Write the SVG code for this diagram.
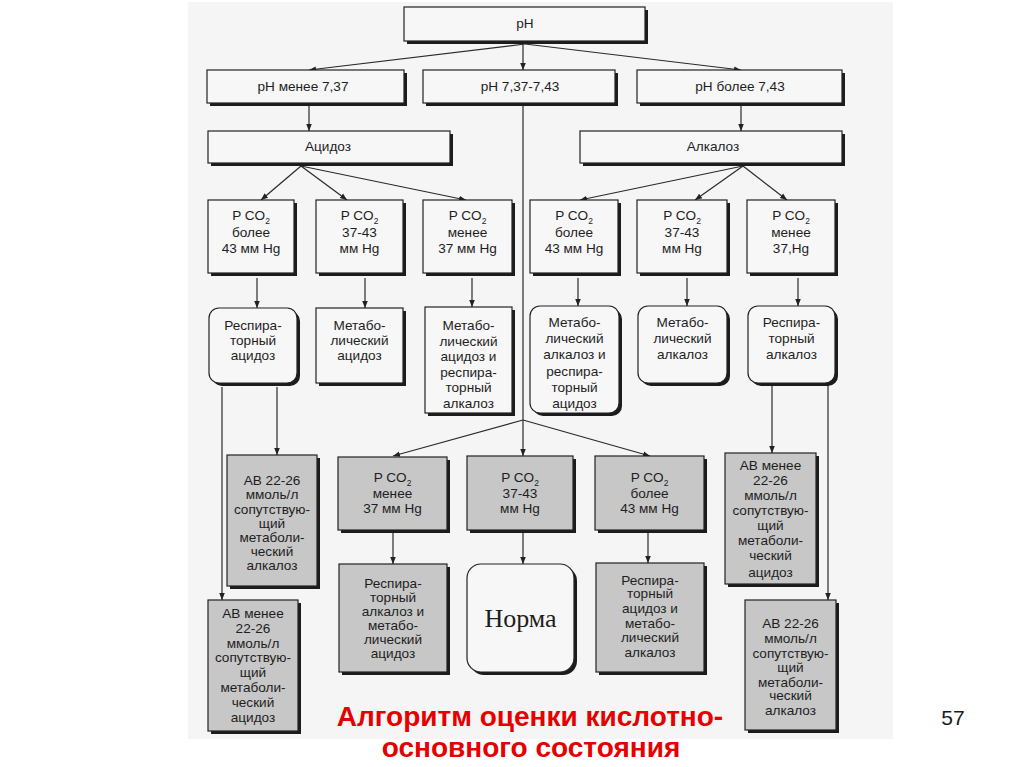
<svg xmlns="http://www.w3.org/2000/svg" width="1024" height="767" viewBox="0 0 1024 767">
<defs>
<marker id="a" viewBox="0 0 10 10" refX="10" refY="5" markerWidth="7" markerHeight="7" markerUnits="userSpaceOnUse" orient="auto"><path d="M0,1 L10,5 L0,9 z" fill="#222"/></marker>
</defs>
<style>
.bx{fill:#f7f7f7;stroke:#222;stroke-width:1.2}
.gb{fill:#c7c7c7;stroke:#222;stroke-width:1.2}
.sh{fill:#1c1c1c}
.t{font-family:"Liberation Sans",Arial,sans-serif;font-size:13.6px;fill:#1e1e1e;text-anchor:middle}
.s{font-size:8.5px}
.c{fill:none;stroke:#2a2a2a;stroke-width:1.2}
.ca{fill:none;stroke:#2a2a2a;stroke-width:1.2;marker-end:url(#a)}
</style>
<rect width="1024" height="767" fill="#ffffff"/>
<rect x="188" y="2" width="705" height="737" fill="#f5f5f5"/>

<g id="connectors">
<path class="ca" d="M525,44 L309,70"/>
<path class="ca" d="M523,44 L523,70"/>
<path class="ca" d="M525,44 L741,70"/>
<path class="ca" d="M309,106 L309,131"/>
<path class="ca" d="M741,106 L741,131"/>
<path class="ca" d="M301,166 L261,200"/>
<path class="ca" d="M301,166 L347,200"/>
<path class="ca" d="M301,166 L466,200"/>
<path class="ca" d="M743,166 L580,200"/>
<path class="ca" d="M743,166 L695,200"/>
<path class="ca" d="M743,166 L787,200"/>
<path class="c" d="M523,106 L523,420"/>
<path class="ca" d="M523,420 L393,456"/>
<path class="ca" d="M523,420 L523,456"/>
<path class="ca" d="M523,420 L650,456"/>
<path class="ca" d="M257,278 L257,308"/>
<path class="ca" d="M365,278 L365,308"/>
<path class="ca" d="M472,278 L472,307"/>
<path class="ca" d="M578,278 L578,306"/>
<path class="ca" d="M687,278 L687,306"/>
<path class="ca" d="M798,278 L798,306"/>
<path class="ca" d="M222,387 L222,600"/>
<path class="ca" d="M277,387 L277,455"/>
<path class="ca" d="M772,386 L772,453"/>
<path class="ca" d="M828,386 L828,600"/>
<path class="ca" d="M393,533 L393,564"/>
<path class="ca" d="M523,533 L523,564"/>
<path class="ca" d="M648,533 L648,563"/>
</g>

<g id="ph">
<rect class="sh" x="407" y="10" width="241" height="34"/>
<rect class="bx" x="404" y="7" width="241" height="34"/>
<text class="t" x="525" y="28">pH</text>
</g>
<g id="ph-low">
<rect class="sh" x="210" y="73" width="197" height="33"/>
<rect class="bx" x="207" y="70" width="197" height="33"/>
<text class="t" x="303" y="91">pH менее 7,37</text>
</g>
<g id="ph-norm">
<rect class="sh" x="426" y="73" width="192" height="33"/>
<rect class="bx" x="423" y="70" width="192" height="33"/>
<text class="t" x="520" y="91">pH 7,37-7,43</text>
</g>
<g id="ph-high">
<rect class="sh" x="640" y="73" width="205" height="33"/>
<rect class="bx" x="637" y="70" width="205" height="33"/>
<text class="t" x="740" y="91">pH более 7,43</text>
</g>
<g id="acidosis">
<rect class="sh" x="211" y="134" width="242" height="32"/>
<rect class="bx" x="208" y="131" width="242" height="32"/>
<text class="t" x="328" y="151">Ацидоз</text>
</g>
<g id="alkalosis">
<rect class="sh" x="583" y="134" width="262" height="32"/>
<rect class="bx" x="580" y="131" width="262" height="32"/>
<text class="t" x="713" y="151">Алкалоз</text>
</g>

<g id="a-pco2-high">
<rect class="sh" x="211" y="203" width="86" height="73"/>
<rect class="bx" x="208" y="200" width="86" height="73"/>
<text class="t" x="251" y="220">P CO<tspan class="s" dy="4">2</tspan></text>
<text class="t" x="251" y="237">более</text>
<text class="t" x="251" y="253">43 мм Hg</text>
</g>
<g id="a-pco2-norm">
<rect class="sh" x="319" y="203" width="87" height="73"/>
<rect class="bx" x="316" y="200" width="87" height="73"/>
<text class="t" x="359.5" y="220">P CO<tspan class="s" dy="4">2</tspan></text>
<text class="t" x="359.5" y="237">37-43</text>
<text class="t" x="359.5" y="253">мм Hg</text>
</g>
<g id="a-pco2-low">
<rect class="sh" x="426" y="203" width="89" height="73"/>
<rect class="bx" x="423" y="200" width="89" height="73"/>
<text class="t" x="467.5" y="220">P CO<tspan class="s" dy="4">2</tspan></text>
<text class="t" x="467.5" y="237">менее</text>
<text class="t" x="467.5" y="253">37 мм Hg</text>
</g>
<g id="k-pco2-high">
<rect class="sh" x="533" y="203" width="88" height="73"/>
<rect class="bx" x="530" y="200" width="88" height="73"/>
<text class="t" x="574" y="220">P CO<tspan class="s" dy="4">2</tspan></text>
<text class="t" x="574" y="237">более</text>
<text class="t" x="574" y="253">43 мм Hg</text>
</g>
<g id="k-pco2-norm">
<rect class="sh" x="640" y="203" width="90" height="73"/>
<rect class="bx" x="637" y="200" width="90" height="73"/>
<text class="t" x="682" y="220">P CO<tspan class="s" dy="4">2</tspan></text>
<text class="t" x="682" y="237">37-43</text>
<text class="t" x="682" y="253">мм Hg</text>
</g>
<g id="k-pco2-low">
<rect class="sh" x="750" y="203" width="88" height="73"/>
<rect class="bx" x="747" y="200" width="88" height="73"/>
<text class="t" x="791" y="220">P CO<tspan class="s" dy="4">2</tspan></text>
<text class="t" x="791" y="237">менее</text>
<text class="t" x="791" y="253">37,Hg</text>
</g>

<g id="resp-acid">
<rect class="sh" x="212" y="311" width="88" height="75" rx="10"/>
<rect class="bx" x="209" y="308" width="88" height="75" rx="10"/>
<text class="t" x="253" y="330">Респира-</text>
<text class="t" x="253" y="345">торный</text>
<text class="t" x="253" y="360">ацидоз</text>
</g>
<g id="met-acid">
<rect class="sh" x="319" y="311" width="87" height="75"/>
<rect class="bx" x="316" y="308" width="87" height="75"/>
<text class="t" x="359.5" y="330">Метабо-</text>
<text class="t" x="359.5" y="345">лический</text>
<text class="t" x="359.5" y="360">ацидоз</text>
</g>
<g id="met-acid-resp-alk">
<rect class="sh" x="428" y="310" width="87" height="106"/>
<rect class="bx" x="425" y="307" width="87" height="106"/>
<text class="t" x="468.5" y="330">Метабо-</text>
<text class="t" x="468.5" y="345.5">лический</text>
<text class="t" x="468.5" y="361">ацидоз и</text>
<text class="t" x="468.5" y="376.5">респира-</text>
<text class="t" x="468.5" y="392">торный</text>
<text class="t" x="468.5" y="407.5">алкалоз</text>
</g>
<g id="met-alk-resp-acid">
<rect class="sh" x="533" y="309" width="89" height="107" rx="10"/>
<rect class="bx" x="530" y="306" width="89" height="107" rx="10"/>
<text class="t" x="574.5" y="327">Метабо-</text>
<text class="t" x="574.5" y="343">лический</text>
<text class="t" x="574.5" y="359">алкалоз и</text>
<text class="t" x="574.5" y="376">респира-</text>
<text class="t" x="574.5" y="392">торный</text>
<text class="t" x="574.5" y="408">ацидоз</text>
</g>
<g id="met-alk">
<rect class="sh" x="641" y="309" width="89" height="77" rx="10"/>
<rect class="bx" x="638" y="306" width="89" height="77" rx="10"/>
<text class="t" x="682.5" y="327">Метабо-</text>
<text class="t" x="682.5" y="343">лический</text>
<text class="t" x="682.5" y="359">алкалоз</text>
</g>
<g id="resp-alk">
<rect class="sh" x="751" y="309" width="87" height="77" rx="10"/>
<rect class="bx" x="748" y="306" width="87" height="77" rx="10"/>
<text class="t" x="791.5" y="327">Респира-</text>
<text class="t" x="791.5" y="343">торный</text>
<text class="t" x="791.5" y="359">алкалоз</text>
</g>

<g id="ab-norm-left">
<rect class="sh" x="230" y="458" width="90" height="131"/>
<rect class="gb" x="227" y="455" width="90" height="131"/>
<text class="t" x="272" y="485">AB 22-26</text>
<text class="t" x="272" y="499">ммоль/л</text>
<text class="t" x="272" y="513.5">сопутствую-</text>
<text class="t" x="272" y="527.5">щий</text>
<text class="t" x="272" y="541.5">метаболи-</text>
<text class="t" x="272" y="555.5">ческий</text>
<text class="t" x="272" y="570">алкалоз</text>
</g>
<g id="ab-low-left">
<rect class="sh" x="211" y="603" width="90" height="131"/>
<rect class="gb" x="208" y="600" width="90" height="131"/>
<text class="t" x="253" y="618">AB менее</text>
<text class="t" x="253" y="633">22-26</text>
<text class="t" x="253" y="648">ммоль/л</text>
<text class="t" x="253" y="662">сопутствую-</text>
<text class="t" x="253" y="677">щий</text>
<text class="t" x="253" y="692">метаболи-</text>
<text class="t" x="253" y="707">ческий</text>
<text class="t" x="253" y="722">ацидоз</text>
</g>
<g id="n-pco2-low">
<rect class="sh" x="341" y="460" width="109" height="73"/>
<rect class="gb" x="338" y="457" width="109" height="73"/>
<text class="t" x="392.5" y="482">P CO<tspan class="s" dy="4">2</tspan></text>
<text class="t" x="392.5" y="498">менее</text>
<text class="t" x="392.5" y="513">37 мм Hg</text>
</g>
<g id="n-pco2-norm">
<rect class="sh" x="470" y="459" width="106" height="74"/>
<rect class="gb" x="467" y="456" width="106" height="74"/>
<text class="t" x="520" y="482">P CO<tspan class="s" dy="4">2</tspan></text>
<text class="t" x="520" y="498">37-43</text>
<text class="t" x="520" y="513">мм Hg</text>
</g>
<g id="n-pco2-high">
<rect class="sh" x="598" y="459" width="109" height="74"/>
<rect class="gb" x="595" y="456" width="109" height="74"/>
<text class="t" x="649.5" y="482">P CO<tspan class="s" dy="4">2</tspan></text>
<text class="t" x="649.5" y="498">более</text>
<text class="t" x="649.5" y="513">43 мм Hg</text>
</g>
<g id="resp-alk-met-acid">
<rect class="sh" x="342" y="567" width="108" height="108"/>
<rect class="gb" x="339" y="564" width="108" height="108"/>
<text class="t" x="393" y="588">Респира-</text>
<text class="t" x="393" y="602">торный</text>
<text class="t" x="393" y="616">алкалоз и</text>
<text class="t" x="393" y="630">метабо-</text>
<text class="t" x="393" y="644">лический</text>
<text class="t" x="393" y="658">ацидоз</text>
</g>
<g id="norma">
<rect class="sh" x="470" y="567" width="107" height="108" rx="14"/>
<rect class="bx" x="467" y="564" width="107" height="108" rx="14"/>
<text x="520.5" y="627" font-family="'Liberation Serif','Times New Roman',serif" font-size="26" fill="#1e1e1e" text-anchor="middle">Норма</text>
</g>
<g id="resp-acid-met-alk">
<rect class="sh" x="599" y="566" width="108" height="109"/>
<rect class="gb" x="596" y="563" width="108" height="109"/>
<text class="t" x="650" y="585">Респира-</text>
<text class="t" x="650" y="598">торный</text>
<text class="t" x="650" y="613">ацидоз и</text>
<text class="t" x="650" y="628">метабо-</text>
<text class="t" x="650" y="642">лический</text>
<text class="t" x="650" y="657">алкалоз</text>
</g>
<g id="ab-low-right">
<rect class="sh" x="728" y="456" width="91" height="131"/>
<rect class="gb" x="725" y="453" width="91" height="131"/>
<text class="t" x="770.5" y="470">AB менее</text>
<text class="t" x="770.5" y="485">22-26</text>
<text class="t" x="770.5" y="500">ммоль/л</text>
<text class="t" x="770.5" y="515">сопутствую-</text>
<text class="t" x="770.5" y="530">щий</text>
<text class="t" x="770.5" y="545">метаболи-</text>
<text class="t" x="770.5" y="560">ческий</text>
<text class="t" x="770.5" y="577">ацидоз</text>
</g>
<g id="ab-norm-right">
<rect class="sh" x="748" y="603" width="91" height="130"/>
<rect class="gb" x="745" y="600" width="91" height="130"/>
<text class="t" x="790.5" y="628">AB 22-26</text>
<text class="t" x="790.5" y="643">ммоль/л</text>
<text class="t" x="790.5" y="658">сопутствую-</text>
<text class="t" x="790.5" y="672">щий</text>
<text class="t" x="790.5" y="687">метаболи-</text>
<text class="t" x="790.5" y="700">ческий</text>
<text class="t" x="790.5" y="715">алкалоз</text>
</g>

<g id="title" font-family="'Liberation Sans',Arial,sans-serif" font-size="28" font-weight="bold" fill="#e60000" text-anchor="middle">
<text x="530" y="726">Алгоритм оценки кислотно-</text>
<text x="531" y="757">основного состояния</text>
</g>
<text x="953" y="725" font-family="'Liberation Sans',Arial,sans-serif" font-size="21" fill="#1a1a1a" text-anchor="middle">57</text>
</svg>
